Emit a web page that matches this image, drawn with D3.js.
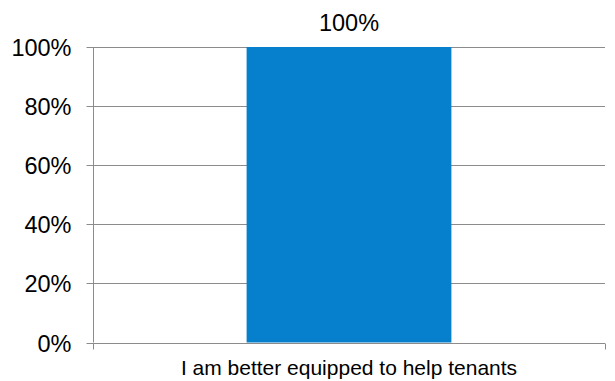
<!DOCTYPE html>
<html>
<head>
<meta charset="utf-8">
<script src="https://cdn.jsdelivr.net/npm/d3@7"></script>
<style>
  html, body { margin: 0; padding: 0; background: #fff; }
  svg { display: block; font-family: "Liberation Sans", Arial, sans-serif; }
</style>
</head>
<body>
<svg id="chart" width="615" height="381"></svg>
<script>
const categories = ["I am better equipped to help tenants"];
const values = [1.0];
const yTicks = [0, 0.2, 0.4, 0.6, 0.8, 1.0];

const margin = { left: 93, right: 10, top: 47, bottom: 38.5 };
const width = 615, height = 381;
const svg = d3.select("#chart");

const x = d3.scaleBand()
  .domain(categories)
  .range([margin.left, width - margin.right])
  .padding(0.4286);

const y = d3.scaleLinear()
  .domain([0, 1])
  .range([height - margin.bottom, margin.top]);

const fmt = d3.format(".0%");
const gridColor = "#8c8c8c";
const fontFamily = "Liberation Sans, Arial, sans-serif";

// horizontal gridlines
svg.append("g")
  .selectAll("line")
  .data(yTicks.filter(d => d > 0))
  .join("line")
  .attr("x1", margin.left)
  .attr("x2", width - margin.right)
  .attr("y1", d => Math.round(y(d)) + 0.5)
  .attr("y2", d => Math.round(y(d)) + 0.5)
  .attr("stroke", gridColor)
  .attr("stroke-width", 1);

// bars
svg.append("g")
  .selectAll("rect")
  .data(categories)
  .join("rect")
  .attr("x", d => x(d))
  .attr("width", x.bandwidth())
  .attr("y", (d, i) => y(values[i]))
  .attr("height", (d, i) => y(0) - y(values[i]))
  .attr("fill", "#0680cd");

// value labels
svg.append("g")
  .selectAll("text")
  .data(categories)
  .join("text")
  .attr("x", d => x(d) + x.bandwidth() / 2)
  .attr("y", (d, i) => y(values[i]) - 16)
  .attr("text-anchor", "middle")
  .attr("font-size", 23.5)
  .attr("font-family", fontFamily)
  .attr("fill", "#000")
  .text((d, i) => fmt(values[i]));

// y axis
const yAxis = svg.append("g")
  .attr("transform", `translate(${margin.left + 0.5},0)`)
  .call(d3.axisLeft(y).tickValues(yTicks).tickFormat(fmt).tickSize(7).tickPadding(15));
yAxis.selectAll("path, line").attr("stroke", gridColor);
yAxis.select(".domain").attr("d", `M0,${y(0)}V${y(1)}`);
yAxis.selectAll("text")
  .attr("font-size", 23.5)
  .attr("dy", "0.37em")
  .attr("fill", "#000")
  .attr("font-family", fontFamily);
yAxis.selectAll(".tick").attr("transform", d => `translate(0,${Math.round(y(d)) + 0.5})`);

// x axis
const xAxis = svg.append("g")
  .attr("transform", `translate(0,${Math.round(y(0)) + 0.5})`)
  .call(d3.axisBottom(x).tickSize(0).tickPadding(17));
xAxis.select(".domain").attr("stroke", gridColor)
  .attr("d", `M${margin.left},0H${width - margin.right}`);
xAxis.selectAll("text")
  .attr("font-size", 21)
  .attr("fill", "#000")
  .attr("font-family", fontFamily);
// boundary ticks at both ends of the category axis
xAxis.selectAll(".edge")
  .data([margin.left + 0.5, width - margin.right + 0.5])
  .join("line")
  .attr("class", "edge")
  .attr("x1", d => d).attr("x2", d => d)
  .attr("y1", 0).attr("y2", 6)
  .attr("stroke", gridColor);
</script>
</body>
</html>
